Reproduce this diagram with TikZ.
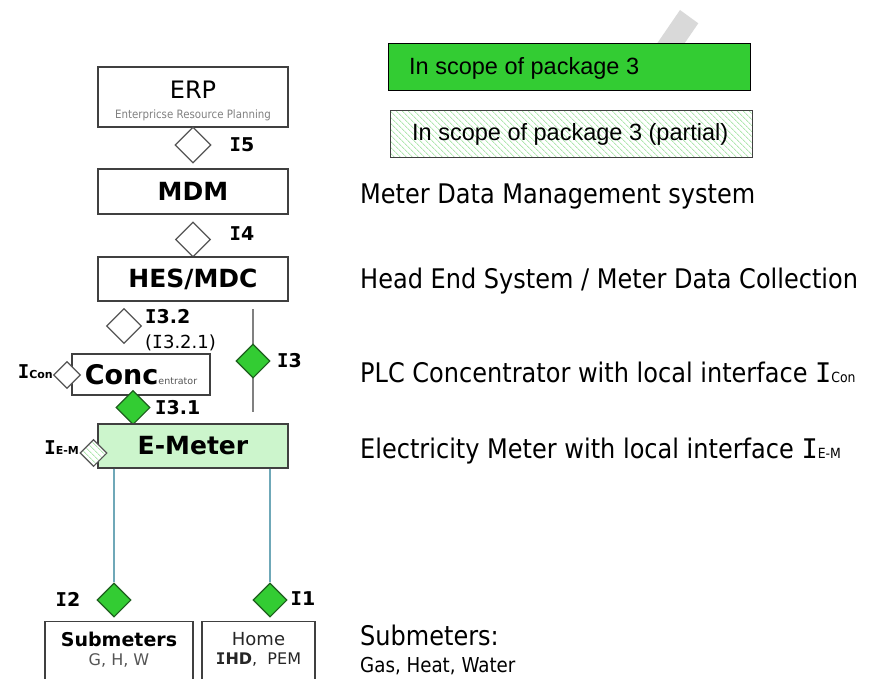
\documentclass[tikz,border=0pt]{standalone}
\usepackage{fontspec}
\usetikzlibrary{shapes.geometric,patterns.meta}
\newfontfamily\tah{DejaVu Sans}[FakeStretch=0.89]
\newfontfamily\dv{DejaVu Sans}
\newfontfamily\monof{DejaVu Sans Mono}
\newfontfamily\arial{Liberation Sans}
\newcommand\fsz[1]{\fontsize{#1}{#1}\selectfont}
\newcommand\IM{{\monof I}}
\definecolor{boxgray}{HTML}{404040}
\definecolor{diagray}{HTML}{555555}
\definecolor{pgreen}{HTML}{33CC33}
\definecolor{gborder}{HTML}{1E5E1E}
\definecolor{lightgreen}{HTML}{CCF5CC}
\definecolor{hatchgreen}{HTML}{B0E8B0}
\definecolor{tealline}{HTML}{6FA8B8}
\definecolor{textgray}{HTML}{555555}
\definecolor{wmgray}{HTML}{D9D9D9}
\begin{document}
\begin{tikzpicture}[x=1pt,y=-1pt,
  box/.style={draw=boxgray, line width=1.4pt, rectangle, inner sep=0pt, font=\dv\bfseries\fsz{25}},
  dia/.style={diamond, aspect=1, inner sep=0pt, minimum size=#1, line width=1.1pt},
  wdia/.style={dia=#1, draw=diagray, fill=white},
  gdia/.style={dia=#1, draw=gborder, fill=pgreen},
  lbl/.style={font=\dv\bfseries\fsz{19}, inner sep=0pt},
  desc/.style={font=\tah\fsz{27}, anchor=base west, inner sep=0pt},
  txt/.style={inner sep=0pt},
  hatch/.style={preaction={fill=white}, pattern={Lines[angle=-45,distance=4pt,line width=0.9pt]}, pattern color=hatchgreen},
  graylink/.style={draw=gray, line width=1.4pt},
  teallink/.style={draw=tealline, line width=1.6pt}
]
\useasboundingbox (0,0) rectangle (869,679);
\clip (0,0) rectangle (869,679);

% watermark fragment
\fill[wmgray] (680,10) -- (698.3,23.3) -- (680,50) -- (652.6,50) -- cycle;

% legend
\node[draw=black, line width=1pt, fill=pgreen, minimum width=362pt, minimum height=47pt, anchor=north west, inner sep=0pt] (leg1) at (388,43) {};
\node[txt, font=\arial\fsz{23.5}, anchor=base west] (leg1t) at (409,75) {In scope of package 3};
\node[draw=boxgray, line width=1pt, hatch, minimum width=362pt, minimum height=47pt, anchor=north west, inner sep=0pt] (leg2) at (390,110) {};
\node[txt, font=\arial\fsz{23.5}, anchor=base west] (leg2t) at (412,141) {In scope of package 3 (partial)};

% ERP
\node[box, minimum width=190pt, minimum height=60pt] (erp) at (193,97) {};
\node[txt, font=\dv\fsz{24}] (erpt) at (193,90) {ERP};
\node[txt, font=\tah\fsz{11.5}, text=gray] (erps) at (193,115) {Enterpricse Resource Planning};
\node[wdia=36pt] (d5) at (193,145) {};
\node[lbl] (l5) at (242,145) {\IM5};

% MDM
\node[box, minimum width=190pt, minimum height=45pt] (mdm) at (193,191.5) {MDM};
\node[wdia=35pt] (d4) at (193,239.5) {};
\node[lbl] (l4) at (242,234) {\IM4};

% HES
\node[box, minimum width=190pt, minimum height=44pt] (hes) at (193,279) {HES/MDC};
\node[wdia=35pt] (d32) at (124,326) {};
\node[lbl, anchor=west] (l32) at (145,317) {\IM3.2};
\node[txt, font=\dv\fsz{18}, anchor=west] (l321) at (145,343) {(\IM3.2.1)};

% Concentrator
\node[box, minimum width=138pt, minimum height=41pt] (conc) at (141,374.5) {{\fsz{27}Conc}{\mdseries\fsz{9.5}\color{textgray}entrator}};
\node[wdia=27pt] (dcon) at (67,375) {};
\node[lbl, anchor=east] (lcon) at (53,372) {\IM{\fsz{11}Con}};
\node[gdia=34pt] (d31) at (133,407.5) {};
\node[lbl, anchor=west] (l31) at (155,408) {\IM3.1};

% I3 link
\coordinate (i3top) at (253,309);
\coordinate (i3bot) at (253,412);
\draw[graylink] (i3top) -- (i3bot);
\node[gdia=34pt] (d3) at (253,361) {};
\node[lbl, anchor=west] (l3) at (277,361) {\IM3};

% E-Meter
\node[box, fill=lightgreen, minimum width=190pt, minimum height=44pt] (em) at (193,446) {E-Meter};
\node[dia=27pt, draw=diagray, hatch] (dem) at (93.5,453) {};
\node[lbl, anchor=east] (lem) at (79,448) {\IM{\fsz{11}E-M}};

% lower interfaces
\node[gdia=34pt] (d2) at (114,600) {};
\node[gdia=34pt] (d1) at (270,600) {};
\draw[teallink] (d2.north |- em.south) -- (d2.north);
\draw[teallink] (d1.north |- em.south) -- (d1.north);
\node[lbl] (l2) at (68,599) {\IM2};
\node[lbl] (l1) at (303,599) {\IM1};

% bottom boxes
\node[box, minimum width=148pt, minimum height=90pt, anchor=north] (sub) at (119,621) {};
\node[txt, font=\dv\bfseries\fsz{19}] (subt) at (119,639) {Submeters};
\node[txt, font=\dv\fsz{16}, text=textgray] (subs) at (119,660) {G, H, W};
\node[box, minimum width=113pt, minimum height=90pt, anchor=north] (home) at (258.5,621) {};
\node[txt, font=\dv\fsz{18}, text=black!85] (homet) at (258.5,639) {Home};
\node[txt, font=\dv\fsz{16}, text=black!85] (homes) at (258.5,660) {{\bfseries\IM HD},\ \ PEM};

% descriptions
\node[desc] (t1) at (360,204) {Meter Data Management system};
\node[desc] (t2) at (360,288) {Head End System / Meter Data Collection};
\node[desc] (t3) at (360,382) {PLC Concentrator with local interface \IM{\fsz{14}Con}};
\node[desc] (t4) at (360,458) {Electricity Meter with local interface \IM{\fsz{14}E-M}};
\node[desc] (t5) at (360,645) {Submeters:};
\node[desc, font=\tah\fsz{20.5}] (t6) at (360,672) {Gas, Heat, Water};
\end{tikzpicture}
\end{document}
